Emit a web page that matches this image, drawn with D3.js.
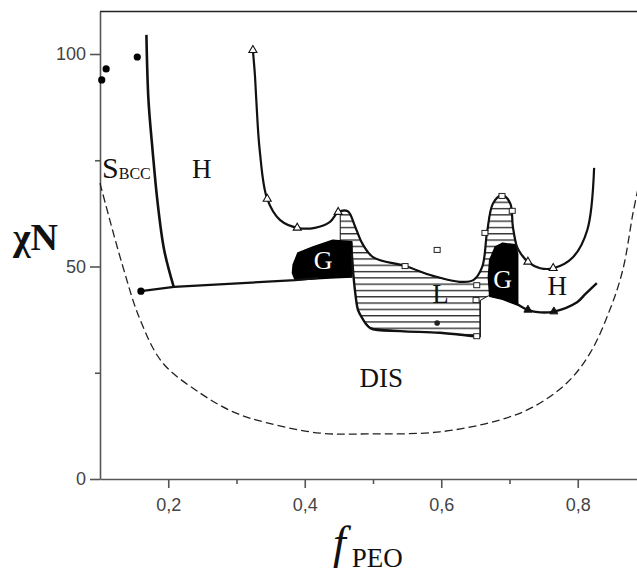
<!DOCTYPE html>
<html>
<head>
<meta charset="utf-8">
<script src="https://cdn.jsdelivr.net/npm/d3@7"></script>
<style>
  body { margin: 0; background: #fff; }
  .tick text { font-family: "Liberation Sans", Arial, sans-serif; font-size: 18px; fill: #444; }
  .axis path, .axis line { stroke: #555; stroke-width: 1.6; }
</style>
</head>
<body>
<div id="chart"></div>
<script>
// ---- data (f_PEO, chiN) ----
const xTicks = [0.2, 0.4, 0.6, 0.8];
const xMinor = [0.3, 0.5, 0.7];
const yTicks = [0, 50, 100];
const yMinor = [25, 75];

// mean-field ODT (dashed)
const meanField = [[0.100, 69.6], [0.132, 50.8], [0.159, 37.4], [0.192, 27.3], [0.247, 20.2], [0.295, 15.8],
  [0.345, 13.2], [0.422, 10.8], [0.491, 10.6], [0.598, 11.1], [0.686, 13.9], [0.734, 16.9], [0.784, 22.6],
  [0.818, 29.6], [0.847, 39.8], [0.866, 49.2], [0.881, 62.6], [0.891, 70.4]];

// S_BCC / H boundary
const sbccLine = [[0.168, 104.5], [0.171, 89.2], [0.177, 77.4], [0.184, 65.6], [0.194, 53.9], [0.208, 45.2]];

// order-disorder line, left part
const odtLeft = [[0.160, 44.2], [0.2084, 45.2], [0.386, 46.8], [0.42, 47.3]];

// upper H boundary (open triangles)
const upperCurve = [[0.324, 100.9], [0.327, 95.0], [0.329, 89.2], [0.334, 77.4], [0.345, 65.9], [0.364, 60.9],
  [0.389, 59.1], [0.415, 59.1], [0.437, 60.5], [0.449, 62.8], [0.463, 63.0], [0.474, 59.3], [0.484, 55.5],
  [0.500, 52.2], [0.547, 50.1], [0.588, 47.8], [0.627, 46.4], [0.647, 46.8], [0.660, 49.9], [0.667, 57.9],
  [0.676, 64.9], [0.689, 66.8], [0.701, 64.9], [0.705, 59.3], [0.711, 54.6], [0.718, 52.7], [0.727, 51.1],
  [0.745, 49.6], [0.764, 49.6], [0.793, 52.2], [0.814, 58.6], [0.824, 73.2]];

// hatched (L) region
const hatchTop = [[0.452, 62.9], [0.463, 63.0], [0.474, 59.3], [0.484, 55.5], [0.500, 52.2], [0.547, 50.1],
  [0.588, 47.8], [0.627, 46.4], [0.647, 46.8], [0.660, 49.9], [0.667, 57.9], [0.676, 64.9], [0.689, 66.8],
  [0.701, 64.9], [0.705, 59.3], [0.711, 54.6]];
const hatchBottom = [[0.711, 41.6], [0.669, 43.1], [0.657, 42.0], [0.657, 33.4], [0.598, 34.4], [0.540, 34.8],
  [0.496, 35.5], [0.484, 37.9], [0.478, 39.8], [0.474, 43.8], [0.471, 48.5], [0.469, 55.5], [0.452, 55.5]];
const lOutline = [[0.469, 53.0], [0.471, 48.5], [0.474, 43.8], [0.478, 39.8], [0.484, 37.9], [0.496, 35.5],
  [0.540, 34.8], [0.598, 34.4], [0.657, 33.4]];
const lRight = [[0.657, 33.4], [0.657, 42.0]];

// gyroid regions
const gyroidLeft = [[0.383, 50.4], [0.390, 53.2], [0.412, 54.6], [0.441, 56.2], [0.469, 55.8], [0.469, 47.5],
  [0.437, 47.3], [0.386, 46.8], [0.382, 48.5]];
const gyroidRight = [[0.671, 51.5], [0.679, 54.6], [0.690, 55.5], [0.708, 55.1], [0.712, 53.0], [0.712, 40.9],
  [0.690, 42.3], [0.671, 43.0], [0.669, 47.5]];

// lower H boundary (filled triangles)
const lowerRight = [[0.711, 41.2], [0.727, 39.8], [0.745, 39.2], [0.765, 39.4], [0.799, 41.6], [0.811, 43.5], [0.828, 46.1]];

// symbols
const dots = [[0.1025, 93.9], [0.109, 96.5], [0.1546, 99.3], [0.160, 44.2]];
const smallDots = [[0.594, 36.7]];
const openTriangles = [[0.324, 100.9], [0.345, 65.9], [0.389, 59.1], [0.449, 62.8], [0.727, 51.1], [0.764, 49.6]];
const filledTriangles = [[0.727, 39.8], [0.765, 39.4]];
const openSquares = [[0.547, 50.1], [0.594, 53.9], [0.652, 45.6], [0.651, 42.1], [0.664, 57.9], [0.689, 66.6],
  [0.704, 63.1], [0.652, 33.6]];

// phase labels
const labels = [
  { text: "H", f: 0.249, chi: 70.8 },
  { text: "H", f: 0.770, chi: 43.3 },
  { text: "L", f: 0.599, chi: 41.4 },
  { text: "DIS", f: 0.512, chi: 21.6 }
];
const gLabels = [{ text: "G", f: 0.427, chi: 49.4 }, { text: "G", f: 0.690, chi: 44.9 }];

// ---- chart ----
const W = 637, H = 574;
const SERIF = "'Liberation Serif', 'Times New Roman', 'DejaVu Serif', serif";
const svg = d3.select("#chart").append("svg").attr("width", W).attr("height", H);

const x = d3.scaleLinear().domain([0.1, 0.9]).range([100, 646]);
const y = d3.scaleLinear().domain([0, 110]).range([479, 11.5]);

const defs = svg.append("defs");
const pat = defs.append("pattern").attr("id", "hatch").attr("patternUnits", "userSpaceOnUse")
  .attr("width", 10).attr("height", 6.3);
pat.append("line").attr("x1", 0).attr("x2", 10).attr("y1", 0.7).attr("y2", 0.7)
  .attr("stroke", "#111").attr("stroke-width", 1.2);

const smooth = d3.line().x(d => x(d[0])).y(d => y(d[1])).curve(d3.curveCatmullRom.alpha(0.5));
const straight = d3.line().x(d => x(d[0])).y(d => y(d[1]));

// top frame line
svg.append("line").attr("x1", x(0.1)).attr("x2", x(0.9)).attr("y1", y(110)).attr("y2", y(110))
  .attr("stroke", "#222").attr("stroke-width", 1.5);

// axes
svg.append("g").attr("class", "axis").attr("transform", `translate(${x(0.1)},0)`)
  .call(d3.axisLeft(y).tickValues(yTicks).tickSize(10).tickSizeOuter(0).tickPadding(4));
svg.append("g").attr("class", "axis").attr("transform", `translate(${x(0.1)},0)`)
  .call(d3.axisLeft(y).tickValues(yMinor).tickSize(5).tickFormat("")).select(".domain").remove();

svg.append("g").attr("class", "axis").attr("transform", `translate(0,${y(0)})`)
  .call(d3.axisBottom(x).tickValues(xTicks).tickSize(9).tickSizeOuter(0).tickPadding(10)
    .tickFormat(d => d3.format(".1f")(d).replace(".", ",")));
svg.append("g").attr("class", "axis").attr("transform", `translate(0,${y(0)})`)
  .call(d3.axisBottom(x).tickValues(xMinor).tickSize(5).tickFormat("")).select(".domain").remove();

// dashed mean-field curve
svg.append("path").attr("d", smooth(meanField)).attr("fill", "none")
  .attr("stroke", "#222").attr("stroke-width", 1.3).attr("stroke-dasharray", "8,4");

// hatched L region
const hatchD = smooth(hatchTop) + hatchBottom.map(d => `L${x(d[0])},${y(d[1])}`).join("") + "Z";
svg.append("path").attr("d", hatchD).attr("fill", "url(#hatch)").attr("stroke", "#111").attr("stroke-width", 1);

// gyroid regions
[gyroidLeft, gyroidRight].forEach(g => {
  svg.append("path").attr("d", straight(g) + "Z").attr("fill", "#000").attr("stroke", "#000")
    .attr("stroke-width", 1.5).attr("stroke-linejoin", "round");
});

// solid lines
svg.append("path").attr("d", smooth(sbccLine)).attr("fill", "none").attr("stroke", "#111").attr("stroke-width", 2.6);
svg.append("path").attr("d", straight(odtLeft)).attr("fill", "none").attr("stroke", "#111").attr("stroke-width", 2.2);
svg.append("path").attr("d", smooth(upperCurve)).attr("fill", "none").attr("stroke", "#111").attr("stroke-width", 2.2);
svg.append("path").attr("d", smooth(lOutline)).attr("fill", "none").attr("stroke", "#111").attr("stroke-width", 2.4);
svg.append("path").attr("d", straight(lRight)).attr("fill", "none").attr("stroke", "#111").attr("stroke-width", 1.2);
svg.append("path").attr("d", smooth(lowerRight)).attr("fill", "none").attr("stroke", "#111").attr("stroke-width", 2.4);

// symbols
svg.selectAll(".dot").data(dots).enter().append("circle")
  .attr("cx", d => x(d[0])).attr("cy", d => y(d[1])).attr("r", 3.6).attr("fill", "#000");
svg.selectAll(".sdot").data(smallDots).enter().append("circle")
  .attr("cx", d => x(d[0])).attr("cy", d => y(d[1])).attr("r", 2.8).attr("fill", "#222");

const tri = d3.symbol().type(d3.symbolTriangle).size(28);
svg.selectAll(".otri").data(openTriangles).enter().append("path")
  .attr("d", tri).attr("transform", d => `translate(${x(d[0])},${y(d[1])})`)
  .attr("fill", "#fff").attr("stroke", "#111").attr("stroke-width", 1.1);
svg.selectAll(".ftri").data(filledTriangles).enter().append("path")
  .attr("d", tri).attr("transform", d => `translate(${x(d[0])},${y(d[1])})`)
  .attr("fill", "#111").attr("stroke", "#111").attr("stroke-width", 1);
svg.selectAll(".osq").data(openSquares).enter().append("rect")
  .attr("x", d => x(d[0]) - 3).attr("y", d => y(d[1]) - 2.5).attr("width", 6).attr("height", 5)
  .attr("fill", "#fff").attr("stroke", "#222").attr("stroke-width", 1);

// phase labels
svg.selectAll(".lab").data(labels).enter().append("text")
  .attr("x", d => x(d.f)).attr("y", d => y(d.chi))
  .attr("text-anchor", "middle").attr("font-family", SERIF).attr("font-size", 27).attr("fill", "#111")
  .text(d => d.text);
svg.selectAll(".glab").data(gLabels).enter().append("text")
  .attr("x", d => x(d.f)).attr("y", d => y(d.chi))
  .attr("text-anchor", "middle").attr("font-family", SERIF).attr("font-size", 26).attr("fill", "#fff")
  .text(d => d.text);

const sb = svg.append("text").attr("x", x(0.103)).attr("y", y(70.8)).attr("font-family", SERIF)
  .attr("font-size", 30).attr("fill", "#111");
sb.append("tspan").text("S");
sb.append("tspan").attr("font-size", 16).attr("dy", 1).text("BCC");

// axis titles
svg.append("text").attr("x", 13).attr("y", 250).attr("font-family", SERIF).attr("font-size", 38)
  .attr("font-weight", "bold").attr("fill", "#111").text("χN");
const ft = svg.append("text").attr("x", 333).attr("y", 558).attr("font-family", SERIF).attr("fill", "#111");
ft.append("tspan").attr("font-size", 46).attr("font-style", "italic").text("f");
ft.append("tspan").attr("font-size", 27).attr("dy", 9).attr("dx", 6).text("PEO");
</script>
</body>
</html>
